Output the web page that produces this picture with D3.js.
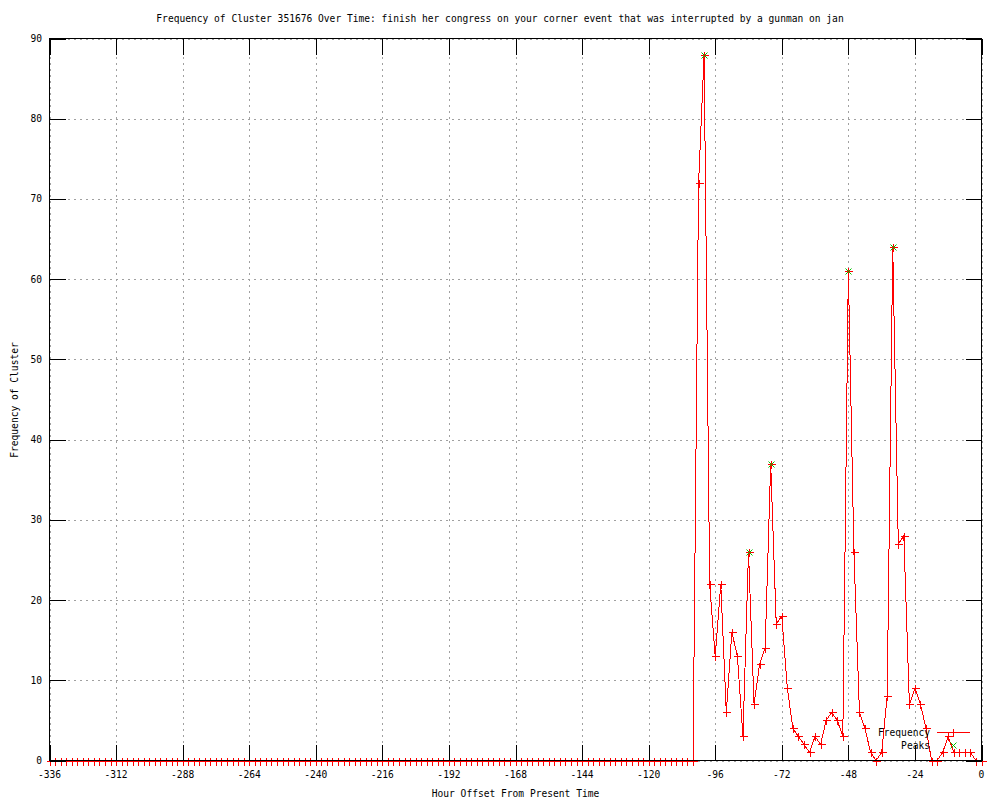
<!DOCTYPE html>
<html>
  <head>
    <title>Frequency of Cluster 351676</title>
    <script src="https://d3js.org/d3.v7.min.js"></script>
    <style>
      body { margin: 0; background: #fff; }
      svg text {
        font-family: "DejaVu Sans Mono", "Liberation Mono", monospace;
        font-size: 9.6px;
        fill: #000;
      }
      .grid line {
        stroke: #a0a0a0;
        stroke-width: 1px;
        stroke-dasharray: 2,4;
        shape-rendering: crispEdges;
      }
      .tick-mark {
        stroke: #000;
        stroke-width: 1px;
        shape-rendering: crispEdges;
      }
    </style>
  </head>
  <body>
    <svg width="1000" height="800"></svg>
    <script>
      const title = "Frequency of Cluster 351676 Over Time: finish her congress on your corner event that was interrupted by a gunman on jan";
      const xLabel = "Hour Offset From Present Time";
      const yLabel = "Frequency of Cluster";

      const xTicks = [-336, -312, -288, -264, -240, -216, -192, -168, -144, -120, -96, -72, -48, -24, 0];
      const yTicks = [0, 10, 20, 30, 40, 50, 60, 70, 80, 90];

      // one sample every 2 hours, -336 .. 0
      const hours = d3.range(-336, 1, 2);
      const frequency = [
        0, 0, 0, 0, 0, 0, 0, 0, 0, 0, 0, 0, 0,
        0, 0, 0, 0, 0, 0, 0, 0, 0, 0, 0, 0, 0,
        0, 0, 0, 0, 0, 0, 0, 0, 0, 0, 0, 0, 0,
        0, 0, 0, 0, 0, 0, 0, 0, 0, 0, 0, 0, 0,
        0, 0, 0, 0, 0, 0, 0, 0, 0, 0, 0, 0, 0,
        0, 0, 0, 0, 0, 0, 0, 0, 0, 0, 0, 0, 0,
        0, 0, 0, 0, 0, 0, 0, 0, 0, 0, 0, 0, 0,
        0, 0, 0, 0, 0, 0, 0, 0, 0, 0, 0, 0, 0,
        0, 0, 0, 0, 0, 0, 0, 0, 0, 0, 0, 0, 0,
        72, 88, 22, 13, 22, 6, 16, 13, 3, 26,
        7, 12, 14, 37, 17, 18, 9, 4, 3, 2,
        1, 3, 2, 5, 6, 5, 3, 61, 26, 6,
        4, 1, 0, 1, 8, 64, 27, 28, 7, 9,
        7, 4, 0, 0, 1, 3, 1, 1, 1, 1,
        0, 0
      ];

      const peakHours = [-100, -84, -76, -48, -32];
      const peakValues = [88, 26, 37, 61, 64];

      const svg = d3.select("svg");
      const plotLeft = 49.5, plotRight = 981.5, plotTop = 38.5, plotBottom = 760.5;
      const tickLen = 16;

      const x = d3.scaleLinear().domain([-336, 0]).range([plotLeft, plotRight]);
      const y = d3.scaleLinear().domain([0, 90]).range([plotBottom, plotTop]);

      const data = hours.map((h, i) => ({h: h, v: frequency[i]}));
      const peaks = peakHours.map((h, i) => ({h: h, v: peakValues[i]}));

      // grid
      const grid = svg.append("g").attr("class", "grid");
      grid.selectAll(".gx").data(xTicks).enter().append("line")
        .attr("x1", d => Math.round(x(d)) + 0.5).attr("x2", d => Math.round(x(d)) + 0.5)
        .attr("y1", plotTop).attr("y2", plotBottom);
      grid.selectAll(".gy").data(yTicks).enter().append("line")
        .attr("y1", d => Math.round(y(d)) + 0.5).attr("y2", d => Math.round(y(d)) + 0.5)
        .attr("x1", plotLeft).attr("x2", plotRight);

      // data line + markers
      const line = d3.line().x(d => x(d.h)).y(d => y(d.v));
      svg.append("path")
        .datum(data)
        .attr("d", line)
        .attr("fill", "none")
        .attr("stroke", "#ff0000")
        .attr("stroke-width", 1)
        .attr("shape-rendering", "crispEdges");

      const plus = "M-4,0H4M0,-4V4";
      const cross = "M-3,-3L3,3M-3,3L3,-3";

      svg.append("g").selectAll("path").data(data).enter().append("path")
        .attr("transform", d => `translate(${Math.round(x(d.h)) + 0.5},${Math.round(y(d.v)) + 0.5})`)
        .attr("d", plus)
        .attr("stroke", "#ff0000")
        .attr("fill", "none")
        .attr("shape-rendering", "crispEdges");

      svg.append("g").selectAll("path").data(peaks).enter().append("path")
        .attr("transform", d => `translate(${Math.round(x(d.h)) + 0.5},${Math.round(y(d.v)) + 0.5})`)
        .attr("d", cross)
        .attr("stroke", "#00c000")
        .attr("fill", "none");

      // border and tick marks
      svg.append("rect")
        .attr("x", plotLeft).attr("y", plotTop)
        .attr("width", plotRight - plotLeft).attr("height", plotBottom - plotTop)
        .attr("fill", "none").attr("stroke", "#000")
        .attr("shape-rendering", "crispEdges");

      const ticks = svg.append("g");
      xTicks.forEach(t => {
        const px = Math.round(x(t)) + 0.5;
        ticks.append("line").attr("class", "tick-mark")
          .attr("x1", px).attr("x2", px).attr("y1", plotBottom).attr("y2", plotBottom - tickLen);
        ticks.append("line").attr("class", "tick-mark")
          .attr("x1", px).attr("x2", px).attr("y1", plotTop).attr("y2", plotTop + tickLen);
      });
      yTicks.forEach(t => {
        const py = Math.round(y(t)) + 0.5;
        ticks.append("line").attr("class", "tick-mark")
          .attr("y1", py).attr("y2", py).attr("x1", plotLeft).attr("x2", plotLeft + tickLen);
        ticks.append("line").attr("class", "tick-mark")
          .attr("y1", py).attr("y2", py).attr("x1", plotRight).attr("x2", plotRight - tickLen);
      });

      // tick labels
      svg.append("g").selectAll("text").data(xTicks).enter().append("text")
        .attr("x", d => x(d))
        .attr("y", 778)
        .attr("text-anchor", "middle")
        .text(d => d);
      svg.append("g").selectAll("text").data(yTicks).enter().append("text")
        .attr("x", 42)
        .attr("y", d => y(d) + 3.5)
        .attr("text-anchor", "end")
        .text(d => d);

      // titles
      svg.append("text")
        .attr("x", 500).attr("y", 22)
        .attr("text-anchor", "middle")
        .text(title);
      svg.append("text")
        .attr("x", (plotLeft + plotRight) / 2).attr("y", 797)
        .attr("text-anchor", "middle")
        .text(xLabel);
      svg.append("text")
        .attr("transform", "translate(18,400) rotate(-90)")
        .attr("text-anchor", "middle")
        .text(yLabel);

      // legend
      const legend = svg.append("g");
      legend.append("text").attr("x", 930).attr("y", 736).attr("text-anchor", "end").text("Frequency");
      legend.append("line").attr("x1", 937).attr("x2", 970).attr("y1", 732.5).attr("y2", 732.5)
        .attr("stroke", "#ff0000").attr("shape-rendering", "crispEdges");
      legend.append("path").attr("transform", "translate(953.5,732.5)").attr("d", plus)
        .attr("stroke", "#ff0000").attr("fill", "none").attr("shape-rendering", "crispEdges");
      legend.append("text").attr("x", 930).attr("y", 749).attr("text-anchor", "end").text("Peaks");
      legend.append("path").attr("transform", "translate(953.5,745.5)").attr("d", cross)
        .attr("stroke", "#00c000").attr("fill", "none");
    </script>
  </body>
</html>
